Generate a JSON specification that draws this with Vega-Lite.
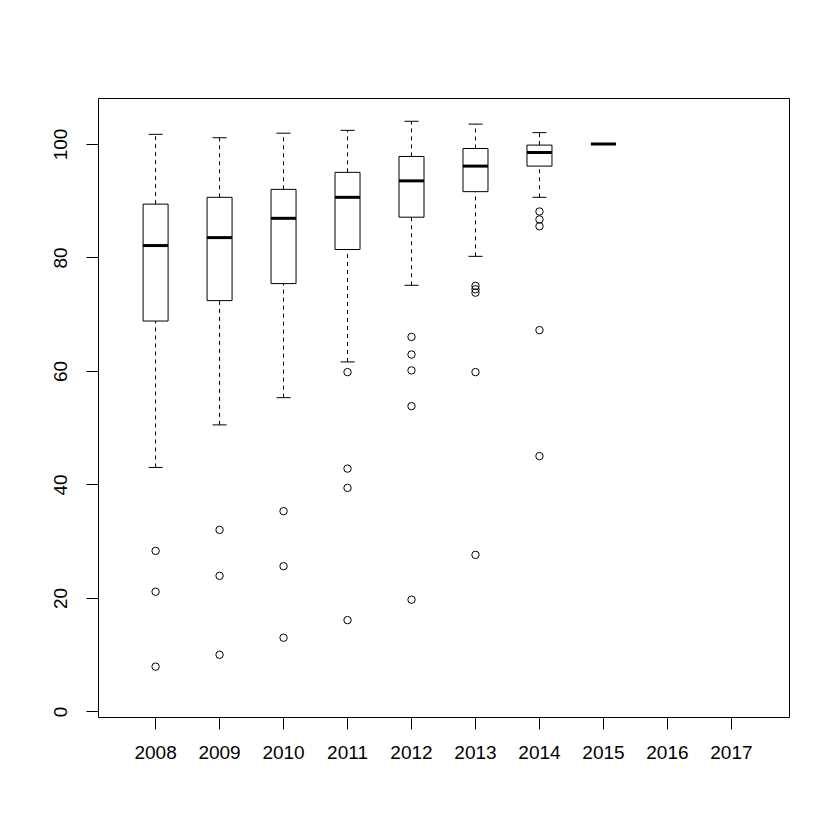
{
  "$schema": "https://vega.github.io/schema/vega-lite/v6.json",
  "autosize": {"type": "none"},
  "padding": {"left": 98, "top": 98, "right": 51, "bottom": 123},
  "width": 691,
  "height": 619,
  "background": "white",
  "config": {
    "view": {"stroke": "black", "strokeWidth": 1},
    "font": "Liberation Sans",
    "axis": {"grid": false, "domain": false, "tickColor": "black", "tickSize": 12, "tickWidth": 1, "labelColor": "black", "labelFontSize": 19, "labelFont": "Liberation Sans", "title": null}
  },
  "datasets": {
    "boxes": [
      {"year": "2008", "lower": 43.0, "q1": 68.8, "median": 82.1, "q3": 89.4, "upper": 101.7},
      {"year": "2009", "lower": 50.5, "q1": 72.4, "median": 83.5, "q3": 90.6, "upper": 101.1},
      {"year": "2010", "lower": 55.3, "q1": 75.4, "median": 86.9, "q3": 92.0, "upper": 101.9},
      {"year": "2011", "lower": 61.6, "q1": 81.4, "median": 90.6, "q3": 95.0, "upper": 102.4},
      {"year": "2012", "lower": 75.1, "q1": 87.1, "median": 93.5, "q3": 97.8, "upper": 104.0},
      {"year": "2013", "lower": 80.2, "q1": 91.6, "median": 96.1, "q3": 99.2, "upper": 103.5},
      {"year": "2014", "lower": 90.6, "q1": 96.1, "median": 98.5, "q3": 99.8, "upper": 102.0},
      {"year": "2015", "lower": 100, "q1": 100, "median": 100, "q3": 100, "upper": 100}
    ],
    "outliers": [
      {"year": "2008", "value": 28.3}, {"year": "2008", "value": 21.1}, {"year": "2008", "value": 7.9},
      {"year": "2009", "value": 32.0}, {"year": "2009", "value": 23.9}, {"year": "2009", "value": 10.0},
      {"year": "2010", "value": 35.3}, {"year": "2010", "value": 25.6}, {"year": "2010", "value": 13.0},
      {"year": "2011", "value": 59.8}, {"year": "2011", "value": 42.8}, {"year": "2011", "value": 39.4}, {"year": "2011", "value": 16.1},
      {"year": "2012", "value": 66.0}, {"year": "2012", "value": 62.9}, {"year": "2012", "value": 60.1}, {"year": "2012", "value": 53.8}, {"year": "2012", "value": 19.7},
      {"year": "2013", "value": 75.0}, {"year": "2013", "value": 74.4}, {"year": "2013", "value": 73.8}, {"year": "2013", "value": 59.8}, {"year": "2013", "value": 27.6},
      {"year": "2014", "value": 88.1}, {"year": "2014", "value": 86.7}, {"year": "2014", "value": 85.5}, {"year": "2014", "value": 67.2}, {"year": "2014", "value": 45.0}
    ]
  },
  "encoding": {
    "x": {
      "field": "year", "type": "nominal",
      "scale": {"domain": ["2008","2009","2010","2011","2012","2013","2014","2015","2016","2017"], "paddingInner": 0, "paddingOuter": 0.4},
      "axis": {"labelAngle": 0, "labelPadding": 14}
    }
  },
  "layer": [
    {
      "data": {"name": "boxes"},
      "mark": {"type": "rule", "color": "black", "strokeWidth": 1, "strokeDash": [4, 4], "opacity": 1},
      "encoding": {
        "y": {"field": "q3", "type": "quantitative", "scale": {"domain": [-0.97, 108.1], "nice": false, "zero": false},
          "axis": {"values": [0, 20, 40, 60, 80, 100], "labelAngle": -90, "labelAlign": "center", "labelBaseline": "bottom", "labelPadding": 16}},
        "y2": {"field": "upper"}
      }
    },
    {
      "data": {"name": "boxes"},
      "mark": {"type": "rule", "color": "black", "strokeWidth": 1, "strokeDash": [4, 4], "opacity": 1},
      "encoding": {
        "y": {"field": "lower", "type": "quantitative"},
        "y2": {"field": "q1"}
      }
    },
    {
      "data": {"name": "boxes"},
      "mark": {"type": "tick", "color": "black", "size": 14, "thickness": 1, "opacity": 1},
      "encoding": {"y": {"field": "upper", "type": "quantitative"}}
    },
    {
      "data": {"name": "boxes"},
      "mark": {"type": "tick", "color": "black", "size": 14, "thickness": 1, "opacity": 1},
      "encoding": {"y": {"field": "lower", "type": "quantitative"}}
    },
    {
      "data": {"name": "boxes"},
      "mark": {"type": "bar", "fill": "white", "stroke": "black", "strokeWidth": 1, "size": 25, "opacity": 1},
      "encoding": {
        "y": {"field": "q1", "type": "quantitative"},
        "y2": {"field": "q3"}
      }
    },
    {
      "data": {"name": "boxes"},
      "mark": {"type": "tick", "color": "black", "size": 25, "thickness": 3, "opacity": 1},
      "encoding": {"y": {"field": "median", "type": "quantitative"}}
    },
    {
      "data": {"name": "outliers"},
      "mark": {"type": "point", "shape": "circle", "filled": false, "stroke": "black", "strokeWidth": 1, "size": 55, "opacity": 1},
      "encoding": {"y": {"field": "value", "type": "quantitative"}}
    }
  ]
}
